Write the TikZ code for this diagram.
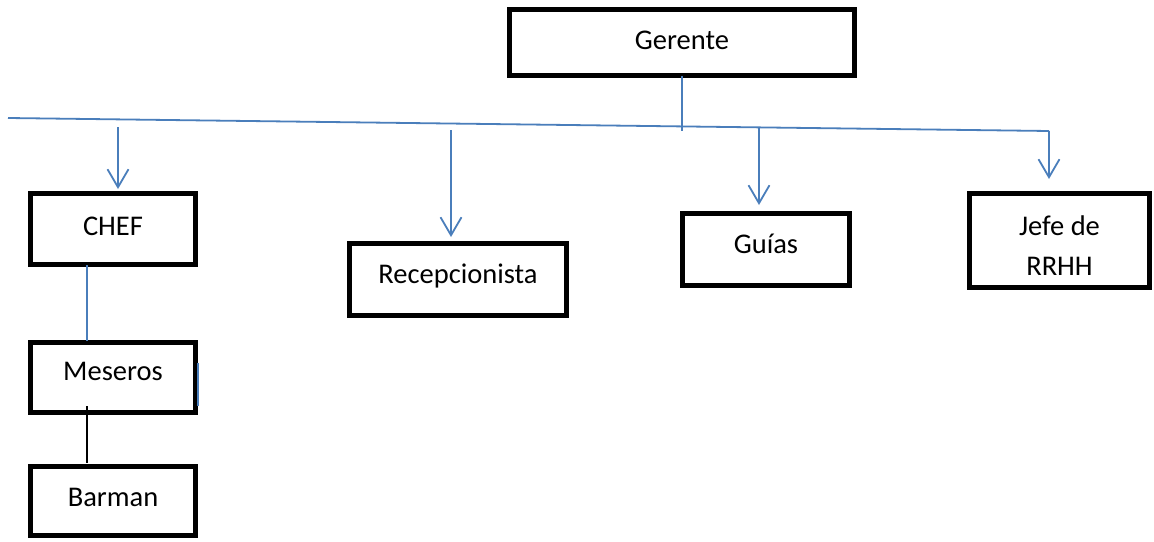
\documentclass[tikz,border=0pt]{standalone}
\usepackage{fontspec}
\setmainfont{Carlito}
\usetikzlibrary{arrows.meta}
\definecolor{lineblue}{RGB}{74,126,187}
\begin{document}
\begin{tikzpicture}[x=1pt,y=-1pt,
  box/.style={draw=black, line width=5pt, fill=white, inner sep=0pt, outer sep=0pt,
    font=\fontsize{28.5}{40}\selectfont, text height=20pt},
  blueline/.style={draw=lineblue, line width=1.8pt},
  bluearrow/.style={blueline, -{Straight Barb[length=18pt,width=21pt]}},
  blackline/.style={draw=black, line width=1.5pt}]
\useasboundingbox[fill=white] (0,0) rectangle (1154,541);

% boxes
\node[box, minimum width=345pt, minimum height=66pt, text depth=7pt] (gerente) at (682,42.5) {Gerente};
\node[box, minimum width=165pt, minimum height=71pt, text depth=8pt] (chef) at (113,229) {CHEF};
\node[box, minimum width=165pt, minimum height=70pt, text depth=15pt] (meseros) at (113,377.5) {Meseros};
\node[box, minimum width=165pt, minimum height=69pt, text depth=10pt] (barman) at (113,501) {Barman};
\node[box, minimum width=217pt, minimum height=72pt, text depth=13pt] (recep) at (458,279.5) {Recepcionista};
\node[box, minimum width=167pt, minimum height=72pt, text depth=13pt] (guias) at (766,249.5) {Guías};
\node[box, minimum width=180pt, minimum height=94pt, text height=69pt, text depth=0pt] (jefe) at (1059.5,240.5)
  {\begin{tabular}[b]{@{}c@{}}Jefe de\\RRHH\end{tabular}};

% coordinates on the branch line
\coordinate (lineL) at (8,118);
\coordinate (lineR) at (1049,131);
\coordinate (gdown) at (682,131);
\coordinate (a1s) at (118,127);
\coordinate (a1e) at (118,189);
\coordinate (a2s) at (451,130);
\coordinate (a2e) at (451,237);
\coordinate (a3s) at (759,127);
\coordinate (a3e) at (759,205);
\coordinate (a4e) at (1049,179);

% connectors
\draw[blueline] (gerente.south) -- (gdown);
\draw[blueline] (lineL) -- (lineR);
\draw[bluearrow] (a1s) -- (a1e);
\draw[bluearrow] (a2s) -- (a2e);
\draw[bluearrow] (a3s) -- (a3e);
\draw[bluearrow] (lineR) -- (a4e);

\coordinate (cm1) at (87,265);
\coordinate (cm2) at (87,341);
\draw[blueline] (cm1) -- (cm2);
\coordinate (mb1) at (87,406);
\coordinate (mb2) at (87,463);
\draw[blackline] (mb1) -- (mb2);
\coordinate (st1) at (198,363);
\coordinate (st2) at (198,406);
\draw[blueline] (st1) -- (st2);
\end{tikzpicture}
\end{document}
